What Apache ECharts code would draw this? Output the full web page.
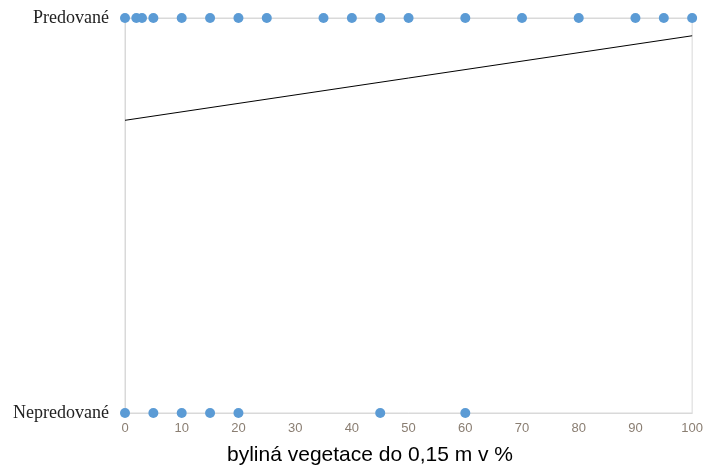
<!DOCTYPE html>
<html>
<head>
<meta charset="utf-8">
<script src="https://cdn.jsdelivr.net/npm/echarts@6/dist/echarts.min.js"></script>
<style>html,body{margin:0;padding:0;background:#fff}#c{width:706px;height:467px}</style>
</head>
<body>
<div id="c"></div>
<script>
var predovaneX = [0, 2, 3, 5, 10, 15, 20, 25, 35, 40, 45, 50, 60, 70, 80, 90, 95, 100];
var nepredovaneX = [0, 5, 10, 15, 20, 45, 60];
var trendX = [0, 100];
var trendY = [0.741, 0.955];
var yCategoryLabels = {0: 'Nepredované', 1: 'Predované'};
var xTitle = 'byliná vegetace do 0,15 m v %';

var chart = echarts.init(document.getElementById('c'), null, {renderer: 'canvas'});
chart.setOption({
  animation: false,
  grid: {left: 125, right: 13, top: 18, bottom: 54, show: true, borderColor: '#d9d9d9', borderWidth: 1},
  xAxis: {
    type: 'value', min: 0, max: 100, interval: 10,
    axisLine: {show: true, lineStyle: {color: '#d9d9d9'}},
    axisTick: {show: false},
    splitLine: {show: false},
    axisLabel: {color: '#8a7e72', fontFamily: 'Liberation Sans, Arial, sans-serif', fontSize: 13, margin: 9}
  },
  yAxis: {
    type: 'value', min: 0, max: 1, interval: 1,
    axisLine: {show: true, lineStyle: {color: '#d9d9d9'}},
    axisTick: {show: false},
    splitLine: {show: true, lineStyle: {color: '#d9d9d9', width: 1}},
    axisLabel: {
      color: '#222', fontFamily: 'Liberation Serif, DejaVu Serif, serif', fontSize: 18, margin: 16,
      formatter: function (v) { return yCategoryLabels[v] || ''; }
    }
  },
  graphic: [{
    type: 'text', x: 370, y: 455,
    style: {text: xTitle, fill: '#000', font: '21px "Liberation Sans", Arial, sans-serif', align: 'center', verticalAlign: 'middle'}
  }],
  series: [
    {type: 'line', data: trendX.map(function (x, i) { return [x, trendY[i]]; }), showSymbol: false, symbol: 'none',
     lineStyle: {color: '#000', width: 1}, z: 1},
    {type: 'scatter', data: predovaneX.map(function (x) { return [x, 1]; }), symbolSize: 10,
     itemStyle: {color: '#5b9bd5', opacity: 1}, z: 3, clip: false},
    {type: 'scatter', data: nepredovaneX.map(function (x) { return [x, 0]; }), symbolSize: 10,
     itemStyle: {color: '#5b9bd5', opacity: 1}, z: 3, clip: false}
  ]
});
</script>
</body>
</html>
